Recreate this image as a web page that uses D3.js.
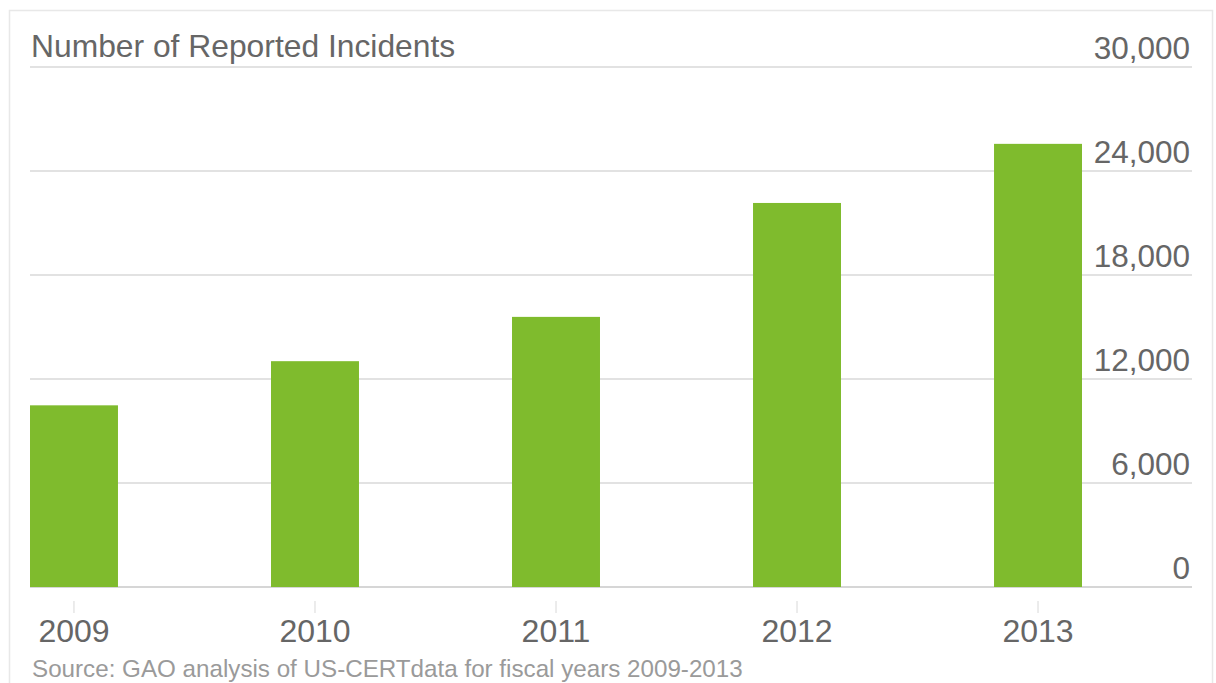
<!DOCTYPE html>
<html>
<head>
<meta charset="utf-8">
<script src="https://cdn.jsdelivr.net/npm/d3@7"></script>
<style>
    html, body { margin: 0; padding: 0; background: #fff; }
    svg text { font-family: "Liberation Sans", Arial, Helvetica, sans-serif; }
</style>
</head>
<body>
<div id="chart"></div>
<script>
// Chart data
const years = ['2009', '2010', '2011', '2012', '2013'];
const incidents = [10481, 13028, 15584, 22156, 25566];
const yTicks = [0, 6000, 12000, 18000, 24000, 30000];

const titleText = 'Number of Reported Incidents';
const sourceText = 'Source: GAO analysis of US-CERTdata for fiscal years 2009-2013';

function renderChart() {
    const width = 1216;
    const height = 683;

    const svg = d3.select('#chart')
        .append('svg')
        .attr('width', width)
        .attr('height', height);

    // outer frame (runs off the bottom edge)
    svg.append('rect')
        .attr('x', 9.5)
        .attr('y', 10.5)
        .attr('width', 1203)
        .attr('height', 700)
        .attr('fill', 'none')
        .attr('stroke', '#e8e8e8')
        .attr('stroke-width', 1.5);

    const x = d3.scaleBand()
        .domain(years)
        .range([30, 1082])
        .paddingInner(0.635)
        .paddingOuter(0);

    const y = d3.scaleLinear()
        .domain([0, 30000])
        .range([587, 67]);

    // gridlines
    svg.append('g')
        .selectAll('line')
        .data(yTicks)
        .enter()
        .append('line')
        .attr('x1', 30)
        .attr('x2', 1192)
        .attr('y1', d => y(d))
        .attr('y2', d => y(d))
        .attr('stroke', d => d === 0 ? '#d6d6d6' : '#e2e2e2')
        .attr('stroke-width', 2);

    // right axis labels
    const fmt = d3.format(',');
    svg.append('g')
        .selectAll('text')
        .data(yTicks)
        .enter()
        .append('text')
        .attr('x', 1190)
        .attr('y', d => y(d) - 8)
        .attr('text-anchor', 'end')
        .attr('font-size', 31.5)
        .attr('fill', '#666')
        .text(d => fmt(d));

    // bars
    svg.append('g')
        .selectAll('rect')
        .data(incidents)
        .enter()
        .append('rect')
        .attr('x', (d, i) => x(years[i]))
        .attr('y', d => y(d))
        .attr('width', x.bandwidth())
        .attr('height', d => y(0) - y(d))
        .attr('fill', '#7fbb2d');

    // x ticks and labels
    const xg = svg.append('g');
    xg.selectAll('line')
        .data(years)
        .enter()
        .append('line')
        .attr('x1', d => x(d) + x.bandwidth() / 2)
        .attr('x2', d => x(d) + x.bandwidth() / 2)
        .attr('y1', 601)
        .attr('y2', 613)
        .attr('stroke', '#d8d8d8')
        .attr('stroke-width', 1);

    xg.selectAll('text')
        .data(years)
        .enter()
        .append('text')
        .attr('x', d => x(d) + x.bandwidth() / 2)
        .attr('y', 642)
        .attr('text-anchor', 'middle')
        .attr('font-size', 32)
        .attr('fill', '#666')
        .text(d => d);

    // title
    svg.append('text')
        .attr('x', 31)
        .attr('y', 57)
        .attr('font-size', 31.8)
        .attr('fill', '#666')
        .text(titleText);

    // source note
    svg.append('text')
        .attr('x', 32)
        .attr('y', 677)
        .attr('font-size', 24.2)
        .attr('fill', '#9a9a9a')
        .text(sourceText);
}

document.addEventListener('DOMContentLoaded', () => { renderChart(); });
</script>
</body>
</html>
